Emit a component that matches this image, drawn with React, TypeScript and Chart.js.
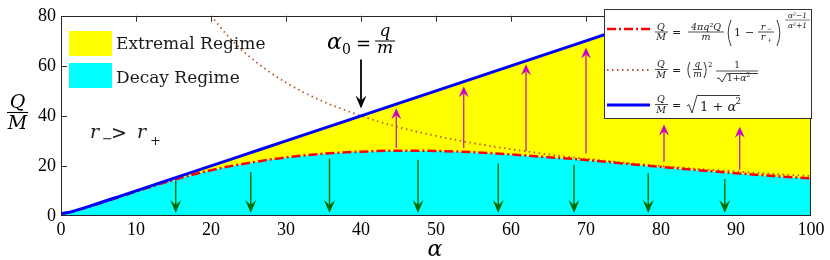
import { useEffect, useRef } from 'react';
import { Chart, registerables } from 'chart.js';
Chart.register(...registerables);

// ---- data ----
const alphaGrid = [0, 1, 2, 3, 5, 7.5, 10, 15, 20, 25, 30, 35, 40, 45, 50, 55, 60, 65, 70, 75, 80, 85, 90, 95, 100];
const decayBoundary = [1, 1.35, 2.1, 3.0, 4.9, 7.3, 9.8, 14.4, 18.3, 21.2, 23.4, 24.9, 25.7, 26.1, 26.0, 25.5, 24.6, 23.5, 22.4, 21.0, 19.6, 18.3, 17.1, 16.0, 15.0];
const upperBound = [1, 1.41, 2.24, 3.16, 5.1, 7.57, 10.05, 15.03, 20.02, 25.02, 30.02, 35.01, 40.01, 45.01, 50.01, 55.01, 60.01, 65.01, 70.01, 75.01, 80.01, 85.01, 90.01, 95.01, 100.0];
const dottedAlpha = [20, 22.5, 25, 27.5, 30, 32.5, 35, 37.5, 40, 45, 50, 55, 60, 65, 70, 75, 80, 85, 90, 95, 100];
const dottedValues = [80, 71.1, 64, 58.2, 53.3, 49.2, 45.7, 42.7, 40, 35.5, 32, 29.1, 26.7, 24.6, 22.9, 21.3, 20, 18.8, 17.8, 16.8, 16];
const xTicks = [0, 10, 20, 30, 40, 50, 60, 70, 80, 90, 100];
const yTicks = [0, 20, 40, 60, 80];
const xRange = [0, 100];
const yRange = [0, 80];

const greenAlpha = [15.3, 25.3, 35.8, 47.6, 58.3, 68.4, 78.3, 88.5];
const greenFrom = [14, 17.6, 23, 22.5, 21, 20.5, 17.2, 14.8];
const greenTo = [1.2, 1.2, 1.2, 1.2, 1.2, 1.2, 1.2, 1.2];
const magentaAlpha = [44.7, 53.7, 62, 70, 80.4, 90.5];
const magentaFrom = [27.2, 27.2, 25.9, 25, 21.7, 18.5];
const magentaTo = [43.1, 51.8, 60.6, 67.3, 36.6, 35.7];
const blackAlpha = [40];
const blackFrom = [62.5];
const blackTo = [43];

const SERIF = '"DejaVu Serif"';
const TICKFONT = 'Liberation Serif';

function font(ctx: CanvasRenderingContext2D, size: number, italic = false) {
  ctx.font = `${italic ? 'italic ' : ''}${size}px ${SERIF}`;
}
function txt(ctx: CanvasRenderingContext2D, s: string, x: number, y: number, size: number, italic = false, align: CanvasTextAlign = 'left') {
  font(ctx, size, italic);
  ctx.textAlign = align;
  ctx.textBaseline = 'alphabetic';
  ctx.fillText(s, x, y);
  return ctx.measureText(s).width;
}
function hline(ctx: CanvasRenderingContext2D, x1: number, x2: number, y: number, w = 0.8) {
  ctx.beginPath();
  ctx.lineWidth = w;
  ctx.moveTo(x1, y);
  ctx.lineTo(x2, y);
  ctx.stroke();
}
function paren(ctx: CanvasRenderingContext2D, x: number, top: number, bottom: number, left: boolean, w = 4) {
  ctx.beginPath();
  ctx.lineWidth = 0.9;
  const mid = (top + bottom) / 2;
  if (left) {
    ctx.moveTo(x + w, top);
    ctx.quadraticCurveTo(x - w * 0.4, mid, x + w, bottom);
  } else {
    ctx.moveTo(x, top);
    ctx.quadraticCurveTo(x + w * 1.4, mid, x, bottom);
  }
  ctx.stroke();
}
function radical(ctx: CanvasRenderingContext2D, x: number, top: number, bottom: number, xEnd: number) {
  const h = bottom - top;
  ctx.beginPath();
  ctx.lineWidth = 0.9;
  ctx.moveTo(x, top + h * 0.6);
  ctx.lineTo(x + 2, top + h * 0.52);
  ctx.lineTo(x + 5, bottom);
  ctx.lineTo(x + 10, top);
  ctx.lineTo(xEnd, top);
  ctx.stroke();
}
function arrow(ctx: CanvasRenderingContext2D, x1: number, y1: number, x2: number, y2: number, color: string, lw: number, headLen: number, headW: number, notch: number) {
  const dx = x2 - x1, dy = y2 - y1;
  const len = Math.hypot(dx, dy);
  const ux = dx / len, uy = dy / len;
  const nx = -uy, ny = ux;
  const bx = x2 - ux * headLen, by = y2 - uy * headLen;
  const mx = x2 - ux * (headLen - notch), my = y2 - uy * (headLen - notch);
  ctx.strokeStyle = color;
  ctx.lineWidth = lw;
  ctx.beginPath();
  ctx.moveTo(x1, y1);
  ctx.lineTo(mx, my);
  ctx.stroke();
  ctx.fillStyle = color;
  ctx.beginPath();
  ctx.moveTo(x2, y2);
  ctx.lineTo(bx + nx * headW, by + ny * headW);
  ctx.lineTo(mx, my);
  ctx.lineTo(bx - nx * headW, by - ny * headW);
  ctx.closePath();
  ctx.fill();
}

const decorations = {
  id: 'decorations',
  beforeDatasetsDraw(chart: any) {
    const { ctx, chartArea: ca, scales } = chart;
    ctx.save();
    ctx.strokeStyle = '#333';
    ctx.lineWidth = 1;
    for (const v of xTicks.slice(1, -1)) {
      const x = Math.round(scales.x.getPixelForValue(v)) + 0.5;
      ctx.beginPath();
      ctx.moveTo(x, ca.top); ctx.lineTo(x, ca.top + 6);
      ctx.moveTo(x, ca.bottom); ctx.lineTo(x, ca.bottom - 6);
      ctx.stroke();
    }
    for (const v of yTicks.slice(1, -1)) {
      const y = Math.round(scales.y.getPixelForValue(v)) + 0.5;
      ctx.beginPath();
      ctx.moveTo(ca.left, y); ctx.lineTo(ca.left + 6, y);
      ctx.moveTo(ca.right, y); ctx.lineTo(ca.right - 6, y);
      ctx.stroke();
    }
    ctx.restore();
  },
  afterDatasetsDraw(chart: any) {
    const { ctx, chartArea: ca, scales } = chart;
    const X = (v: number) => scales.x.getPixelForValue(v);
    const Y = (v: number) => scales.y.getPixelForValue(v);
    ctx.save();
    // arrows
    greenAlpha.forEach((a, i) => arrow(ctx, X(a), Y(greenFrom[i]), X(a), Y(greenTo[i]), '#006a00', 1.4, 13, 5.5, 5));
    magentaAlpha.forEach((a, i) => arrow(ctx, X(a), Y(magentaFrom[i]), X(a), Y(magentaTo[i]), '#cc00cc', 1.2, 11, 5, 4));
    blackAlpha.forEach((a, i) => arrow(ctx, X(a), Y(blackFrom[i]), X(a), Y(blackTo[i]), '#000000', 1.8, 13, 5.5, 5));

    // frame
    ctx.strokeStyle = '#262626';
    ctx.lineWidth = 1;
    ctx.strokeRect(Math.round(ca.left) + 0.5, Math.round(ca.top) + 0.5, Math.round(ca.right - ca.left) - 1, Math.round(ca.bottom - ca.top) - 1);

    // regime legend (top-left)
    ctx.fillStyle = '#ffff00';
    ctx.fillRect(69, 31, 43, 25);
    ctx.fillStyle = '#00ffff';
    ctx.fillRect(69, 63, 43, 25);
    ctx.fillStyle = '#1a1a1a';
    txt(ctx, 'Extremal Regime', 116, 49, 17);
    txt(ctx, 'Decay Regime', 116, 83, 17);

    // r- > r+
    txt(ctx, 'r', 90, 138, 19, true);
    txt(ctx, '−', 102, 143, 13);
    txt(ctx, '>', 111, 139, 19);
    txt(ctx, 'r', 137, 138, 19, true);
    txt(ctx, '+', 150, 145, 13);

    // alpha0 = q/m
    ctx.fillStyle = '#000';
    ctx.strokeStyle = '#000';
    txt(ctx, 'α', 327, 49, 22, true);
    txt(ctx, '0', 342, 54, 14);
    txt(ctx, '=', 356, 50, 18);
    txt(ctx, 'q', 385, 36, 17, true, 'center');
    hline(ctx, 375, 395, 41, 1);
    txt(ctx, 'm', 385, 53, 17, true, 'center');

    // axis titles
    txt(ctx, 'Q', 17.5, 108, 19, true, 'center');
    hline(ctx, 7, 28, 112.5, 1.1);
    txt(ctx, 'M', 17.5, 129, 19, true, 'center');
    txt(ctx, 'α', 435, 256, 22, true, 'center');

    // legend box
    ctx.fillStyle = '#ffffff';
    ctx.fillRect(604, 9, 208, 110);
    ctx.strokeStyle = '#333';
    ctx.lineWidth = 1;
    ctx.strokeRect(604.5, 9.5, 207, 109);

    // legend lines
    ctx.lineCap = 'butt';
    ctx.strokeStyle = '#ff0000';
    ctx.lineWidth = 2.5;
    ctx.setLineDash([9, 3, 2, 3]);
    ctx.beginPath(); ctx.moveTo(607, 29); ctx.lineTo(650, 29); ctx.stroke();
    ctx.strokeStyle = '#b5562b';
    ctx.lineWidth = 1.8;
    ctx.setLineDash([1.5, 3.5]);
    ctx.beginPath(); ctx.moveTo(607, 70); ctx.lineTo(650, 70); ctx.stroke();
    ctx.strokeStyle = '#0000ff';
    ctx.lineWidth = 3;
    ctx.setLineDash([]);
    ctx.beginPath(); ctx.moveTo(607, 105); ctx.lineTo(650, 105); ctx.stroke();

    // legend math
    ctx.fillStyle = '#222';
    ctx.strokeStyle = '#222';
    // entry 1
    txt(ctx, 'Q', 661, 29.5, 9.5, true, 'center');
    hline(ctx, 655, 668, 32);
    txt(ctx, 'M', 661, 40, 9.5, true, 'center');
    txt(ctx, '=', 672, 36, 11);
    txt(ctx, '4πq²Q', 706, 29.5, 9.5, true, 'center');
    hline(ctx, 688, 724, 32);
    txt(ctx, 'm', 706, 40, 9.5, true, 'center');
    paren(ctx, 727, 20, 46, true);
    txt(ctx, '1', 734, 36, 11);
    txt(ctx, '−', 745, 36, 11);
    txt(ctx, 'r', 763, 29.5, 9.5, true, 'center');
    txt(ctx, '−', 767, 31, 6);
    hline(ctx, 758, 774, 32);
    txt(ctx, 'r', 763, 40, 9.5, true, 'center');
    txt(ctx, '+', 767, 42, 6);
    paren(ctx, 777, 20, 46, false);
    txt(ctx, 'α²−1', 797.5, 18, 7.5, true, 'center');
    hline(ctx, 785, 810, 20, 0.6);
    txt(ctx, 'α²+1', 797.5, 27.5, 7.5, true, 'center');

    // entry 2
    txt(ctx, 'Q', 661, 67, 9.5, true, 'center');
    hline(ctx, 655, 668, 69.5);
    txt(ctx, 'M', 661, 77.5, 9.5, true, 'center');
    txt(ctx, '=', 672, 73.5, 11);
    paren(ctx, 687, 62, 78, true, 3);
    txt(ctx, 'q', 697.5, 67, 9, true, 'center');
    hline(ctx, 693, 702, 69.5);
    txt(ctx, 'm', 697.5, 77, 9, true, 'center');
    paren(ctx, 704, 62, 78, false, 3);
    txt(ctx, '2', 708, 67, 7);
    txt(ctx, '1', 737, 68, 9, false, 'center');
    hline(ctx, 716, 758, 71);
    radical(ctx, 717, 73.5, 82, 758);
    txt(ctx, '1+', 727, 81, 9);
    const w1 = (() => { font(ctx, 9); return ctx.measureText('1+').width; })();
    txt(ctx, 'α', 727 + w1, 81, 9, true);
    txt(ctx, '2', 727 + w1 + 6, 77, 6.5);

    // entry 3
    txt(ctx, 'Q', 661, 102, 9.5, true, 'center');
    hline(ctx, 655, 668, 104.5);
    txt(ctx, 'M', 661, 113, 9.5, true, 'center');
    txt(ctx, '=', 672, 109, 11);
    radical(ctx, 687, 95.5, 113, 740);
    txt(ctx, '1 + ', 700, 111, 13);
    const w2 = (() => { font(ctx, 13); return ctx.measureText('1 + ').width; })();
    txt(ctx, 'α', 700 + w2, 111, 13, true);
    txt(ctx, '2', 700 + w2 + 8, 104, 8.5);

    ctx.restore();
  },
};

export default function App() {
  const ref = useRef<HTMLCanvasElement>(null);
  useEffect(() => {
    document.body.style.margin = '0';
    const pts = (xs: number[], ys: number[]) => xs.map((x, i) => ({ x, y: ys[i] }));
    const chart = new Chart(ref.current!, {
      type: 'line',
      data: {
        datasets: [
          { label: 'sqrt', data: pts(alphaGrid, upperBound), borderColor: '#0000ff', borderWidth: 3, pointRadius: 0, cubicInterpolationMode: 'monotone', fill: false },
          { label: 'boundary', data: pts(alphaGrid, decayBoundary), borderColor: '#ff0000', borderWidth: 2.5, borderDash: [9, 3, 2, 3], pointRadius: 0, cubicInterpolationMode: 'monotone', fill: false },
          { label: 'dotted', data: pts(dottedAlpha, dottedValues), borderColor: '#b5562b', borderWidth: 1.8, borderDash: [1.5, 3.5], pointRadius: 0, cubicInterpolationMode: 'monotone', fill: false },
          { label: 'extremal', data: pts(alphaGrid, upperBound.map((v) => Math.min(v, yRange[1]))), borderColor: 'transparent', borderWidth: 0, backgroundColor: '#ffff00', pointRadius: 0, fill: 4 },
          { label: 'decay', data: pts(alphaGrid, decayBoundary), borderColor: 'transparent', borderWidth: 0, backgroundColor: '#00ffff', pointRadius: 0, cubicInterpolationMode: 'monotone', fill: 'origin' },
        ],
      } as any,
      options: {
        animation: false,
        responsive: false,
        devicePixelRatio: 1,
        parsing: false as any,
        layout: { padding: { left: 0, right: 19, top: 10, bottom: 0 } },
        plugins: { legend: { display: false }, tooltip: { enabled: false } },
        scales: {
          x: {
            type: 'linear',
            min: xRange[0],
            max: xRange[1],
            afterBuildTicks: (s: any) => { s.ticks = xTicks.map((value) => ({ value })); },
            afterFit: (s: any) => { s.height = 44; },
            grid: { display: false, drawTicks: false },
            border: { display: false },
            ticks: { color: '#000', font: { family: TICKFONT, size: 18 }, padding: 3, maxRotation: 0, autoSkip: false },
          },
          y: {
            type: 'linear',
            min: yRange[0],
            max: yRange[1],
            afterBuildTicks: (s: any) => { s.ticks = yTicks.map((value) => ({ value })); },
            afterFit: (s: any) => { s.width = 61; },
            grid: { display: false, drawTicks: false },
            border: { display: false },
            ticks: { color: '#000', font: { family: TICKFONT, size: 18 }, padding: 5, autoSkip: false },
          },
        },
      } as any,
      plugins: [decorations],
    });
    return () => chart.destroy();
  }, []);
  return <canvas ref={ref} width={830} height={260} style={{ display: 'block' }} />;
}
